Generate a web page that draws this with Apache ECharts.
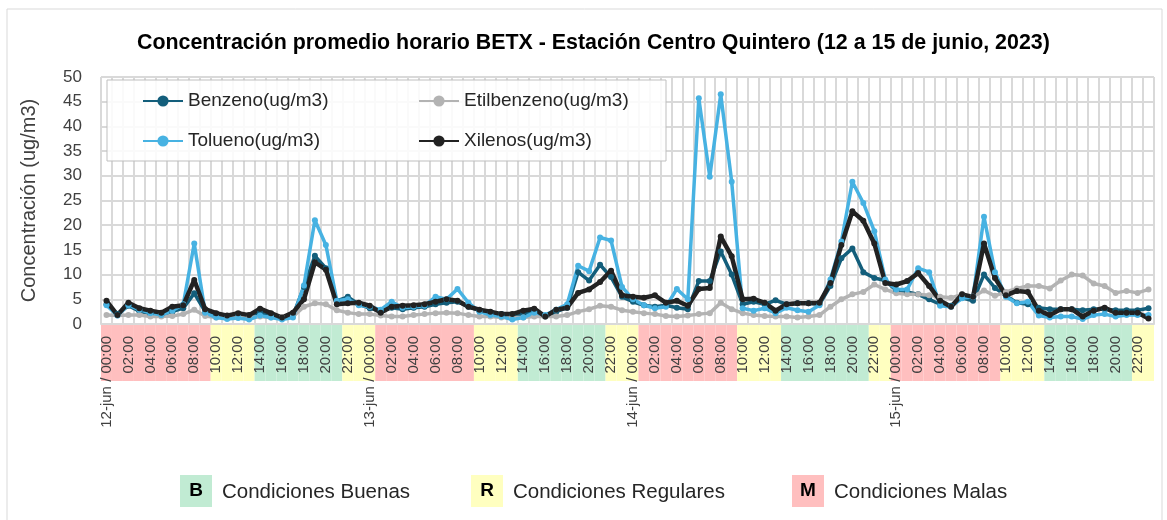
<!DOCTYPE html>
<html lang="es">
<head>
<meta charset="utf-8">
<title>BETX Centro Quintero</title>
<script src="https://cdn.jsdelivr.net/npm/echarts@6/dist/echarts.min.js"></script>
<style>
  html, body { margin: 0; padding: 0; background: #fff; }
  #chart { width: 1167px; height: 520px; }
</style>
</head>
<body>
<div id="chart"></div>
<script>
// dias y horas del eje
const dias = ['12-jun', '13-jun', '14-jun', '15-jun']
const horas = ['00:00', '01:00', '02:00', '03:00', '04:00', '05:00', '06:00', '07:00',
  '08:00', '09:00', '10:00', '11:00', '12:00', '13:00', '14:00', '15:00',
  '16:00', '17:00', '18:00', '19:00', '20:00', '21:00', '22:00', '23:00']
const yTicks = [0, 5, 10, 15, 20, 25, 30, 35, 40, 45, 50]

// concentraciones horarias (ug/m3), una fila por dia
const benzeno = [
  4.0, 2.0, 3.7, 2.6, 2.0, 1.8, 2.5, 3.2, 6.2, 2.5, 1.8, 1.5, 1.8, 1.5, 2.3, 1.6, 1.2, 1.7, 7.5, 13.8, 11.3, 4.7, 5.5, 4.0,
  3.2, 2.6, 3.3, 3.0, 3.3, 3.5, 4.0, 4.3, 4.5, 3.5, 2.7, 2.3, 2.0, 1.8, 2.0, 2.6, 1.5, 2.5, 3.3, 10.5, 8.8, 12.0, 9.5, 5.5,
  4.5, 3.8, 3.5, 3.8, 3.3, 3.0, 8.7, 8.7, 14.7, 10.0, 4.0, 4.5, 4.0, 4.8, 4.0, 4.2, 4.2, 4.0, 7.7, 13.3, 15.3, 10.5, 9.3, 8.8,
  6.8, 6.5, 6.0, 5.0, 4.0, 3.7, 5.3, 4.7, 10.0, 7.3, 5.7, 4.3, 4.0, 3.3, 3.0, 3.0, 3.0, 2.8, 3.0, 3.0, 2.8, 2.8, 2.8, 3.2
]
const etilbenzeno = [
  1.8, 1.7, 1.8, 1.8, 1.5, 1.5, 1.6, 2.0, 2.9, 1.6, 1.3, 1.2, 1.3, 1.3, 1.5, 1.3, 1.3, 1.5, 3.5, 4.2, 4.0, 2.8, 2.3, 2.0,
  2.0, 1.7, 1.5, 1.5, 1.8, 2.0, 2.2, 2.3, 2.2, 1.8, 1.5, 1.5, 1.3, 1.3, 1.3, 1.5, 1.5, 1.5, 1.8, 2.5, 3.0, 3.7, 3.5, 2.8,
  2.5, 2.2, 2.0, 1.6, 1.5, 1.7, 2.0, 2.2, 4.3, 3.0, 2.2, 1.8, 1.6, 1.5, 1.5, 1.3, 1.5, 1.8, 3.5, 5.0, 6.0, 6.5, 8.0, 7.0,
  6.2, 6.0, 6.0, 5.8, 5.5, 5.3, 6.0, 5.5, 6.8, 5.7, 6.5, 7.2, 7.7, 7.7, 7.2, 8.8, 10.0, 9.8, 8.2, 7.7, 6.3, 6.7, 6.3, 7.0
]
const tolueno = [
  3.8, 1.7, 3.8, 2.9, 2.2, 1.8, 2.7, 4.0, 16.3, 2.3, 1.3, 1.0, 1.2, 0.9, 1.7, 1.3, 0.9, 1.3, 7.8, 21.0, 16.0, 4.7, 5.0, 3.8,
  3.5, 2.9, 4.5, 3.3, 3.5, 3.7, 5.5, 5.0, 7.1, 4.3, 2.5, 1.8, 1.5, 0.9, 1.3, 2.3, 1.8, 2.9, 4.0, 11.8, 10.7, 17.5, 16.9, 7.5,
  5.0, 3.8, 3.2, 3.5, 7.1, 5.0, 45.7, 29.8, 46.5, 28.8, 3.2, 2.7, 3.2, 2.2, 3.3, 2.8, 2.5, 3.8, 9.0, 16.7, 28.8, 24.5, 18.8, 9.0,
  7.0, 7.0, 11.3, 10.5, 3.7, 3.5, 5.2, 5.5, 21.7, 10.5, 5.5, 4.2, 4.5, 1.7, 1.3, 1.5, 1.5, 1.0, 1.8, 2.0, 1.5, 1.8, 1.8, 1.8
]
const xilenos = [
  4.7, 1.8, 4.3, 3.2, 2.7, 2.3, 3.5, 3.8, 8.9, 3.0, 2.2, 1.7, 2.2, 1.8, 3.1, 2.2, 1.3, 2.3, 5.0, 12.5, 11.0, 4.0, 4.2, 4.3,
  3.7, 2.3, 3.5, 3.7, 3.8, 4.0, 4.5, 5.0, 4.7, 3.5, 2.9, 2.5, 2.0, 2.0, 2.7, 3.1, 1.5, 2.9, 3.3, 6.3, 7.0, 8.5, 10.8, 5.8,
  5.5, 5.3, 5.8, 4.3, 4.7, 3.7, 7.1, 7.3, 17.7, 13.7, 5.0, 5.1, 4.3, 2.7, 4.0, 4.2, 4.2, 4.3, 8.3, 16.0, 22.8, 20.9, 16.3, 8.3,
  8.0, 8.7, 10.3, 7.7, 4.7, 3.5, 6.0, 5.5, 16.3, 9.3, 5.8, 6.7, 6.5, 2.7, 1.8, 3.0, 3.0, 1.5, 2.7, 3.3, 2.3, 2.3, 2.3, 1.1
]

// franjas de condiciones (indice de hora inicial y final)
const bandas = [
  ['M', 0, 9], ['R', 10, 13], ['B', 14, 21], ['R', 22, 24],
  ['M', 25, 33], ['R', 34, 37], ['B', 38, 45], ['R', 46, 48],
  ['M', 49, 57], ['R', 58, 61], ['B', 62, 69], ['R', 70, 71],
  ['M', 72, 81], ['R', 82, 85], ['B', 86, 93], ['R', 94, 95]
]
const condiciones = [
  ['B', 'Condiciones Buenas', '#c1ebd3'],
  ['R', 'Condiciones Regulares', '#ffffc0'],
  ['M', 'Condiciones Malas', '#ffbfbf']
]

const categorias = dias.flatMap(d => horas.map(h => h === '00:00' ? d + ' / ' + h : h))
const colorCond = {}
condiciones.forEach(c => { colorCond[c[0]] = c[2] })
const franja = categorias.map((c, i) => {
  const b = bandas.find(b => i >= b[1] && i <= b[2])
  return { value: 1, itemStyle: { color: colorCond[b[0]] } }
})

const fuente = 'Liberation Sans, Arial, sans-serif'
const gris = '#d9d9d9'

const serie = (name, data, color, width) => ({
  name,
  type: 'line',
  data,
  z: 5,
  symbol: 'circle',
  symbolSize: 6,
  itemStyle: { color },
  lineStyle: { color, width }
})

// leyenda inferior (cajas con letra)
const leyendaX = [180, 471, 792]
const graficos = [{
  type: 'rect',
  shape: { x: 7, y: 9, width: 1155, height: 530 },
  style: { fill: 'none', stroke: gris, lineWidth: 1 },
  silent: true
}]
condiciones.forEach((c, i) => {
  const x = leyendaX[i]
  graficos.push({ type: 'rect', shape: { x, y: 475, width: 32, height: 32 }, style: { fill: c[2] } })
  graficos.push({ type: 'text', x: x + 16, y: 491, style: { text: c[0], font: 'bold 19px ' + fuente, fill: '#000', align: 'center', verticalAlign: 'middle' } })
  graficos.push({ type: 'text', x: x + 42, y: 492, style: { text: c[1], font: '20.5px ' + fuente, fill: '#262626', verticalAlign: 'middle' } })
})

const chart = echarts.init(document.getElementById('chart'))
chart.setOption({
  animation: false,
  textStyle: { fontFamily: fuente },
  title: {
    text: 'Concentración promedio horario BETX - Estación Centro Quintero (12 a 15 de junio, 2023)',
    left: 137,
    top: 33,
    padding: 0,
    textStyle: { fontSize: 21.4, fontWeight: 'bold', color: '#000', fontFamily: fuente }
  },
  legend: [{
    data: ['Benzeno(ug/m3)', 'Tolueno(ug/m3)'],
    orient: 'vertical',
    left: 107,
    top: 80,
    padding: [9, 328, 8, 35],
    itemGap: 16,
    itemWidth: 40,
    itemHeight: 14,
    backgroundColor: 'rgba(255,255,255,0.85)',
    borderColor: '#bfbfbf',
    borderWidth: 1,
    textStyle: { fontSize: 19, lineHeight: 24, width: 150, color: '#262626' }
  }, {
    data: ['Etilbenzeno(ug/m3)', 'Xilenos(ug/m3)'],
    orient: 'vertical',
    left: 418,
    top: 80,
    z: 5,
    padding: [9, 0, 8, 0],
    itemGap: 16,
    itemWidth: 40,
    itemHeight: 14,
    textStyle: { fontSize: 19, lineHeight: 24, color: '#262626' }
  }],
  grid: [
    { left: 101, right: 13, top: 77, height: 247 },
    { left: 101, right: 13, top: 325, height: 56 }
  ],
  xAxis: [{
    type: 'category',
    data: categorias,
    z: 3,
    boundaryGap: true,
    axisLine: { lineStyle: { color: gris, width: 2 } },
    axisTick: { show: false },
    splitLine: { show: true, interval: 0, lineStyle: { color: gris, width: 2 } },
    axisLabel: { interval: 1, rotate: 90, margin: 12, fontSize: 15, color: '#404040' }
  }, {
    type: 'category',
    gridIndex: 1,
    data: categorias,
    show: false
  }],
  yAxis: [{
    type: 'value',
    min: yTicks[0],
    max: yTicks[yTicks.length - 1],
    interval: yTicks[1] - yTicks[0],
    z: 3,
    name: 'Concentración (ug/m3)',
    nameLocation: 'middle',
    nameGap: 62,
    nameTextStyle: { fontSize: 20, color: '#404040' },
    axisLine: { show: false },
    axisTick: { show: false },
    splitLine: { lineStyle: { color: gris, width: 2 } },
    axisLabel: { margin: 19, fontSize: 17, color: '#404040' }
  }, {
    type: 'value',
    gridIndex: 1,
    min: 0,
    max: 1,
    show: false
  }],
  series: [
    {
      name: 'condiciones',
      type: 'bar',
      xAxisIndex: 1,
      yAxisIndex: 1,
      barWidth: '100%',
      barCategoryGap: 0,
      silent: true,
      z: 1,
      data: franja
    },
    serie('Benzeno(ug/m3)', benzeno, '#135e7b', 3.5),
    serie('Etilbenzeno(ug/m3)', etilbenzeno, '#b3b3b3', 3.5),
    serie('Tolueno(ug/m3)', tolueno, '#47b2e2', 3.5),
    serie('Xilenos(ug/m3)', xilenos, '#222222', 4.5)
  ],
  graphic: graficos
})
</script>
</body>
</html>
